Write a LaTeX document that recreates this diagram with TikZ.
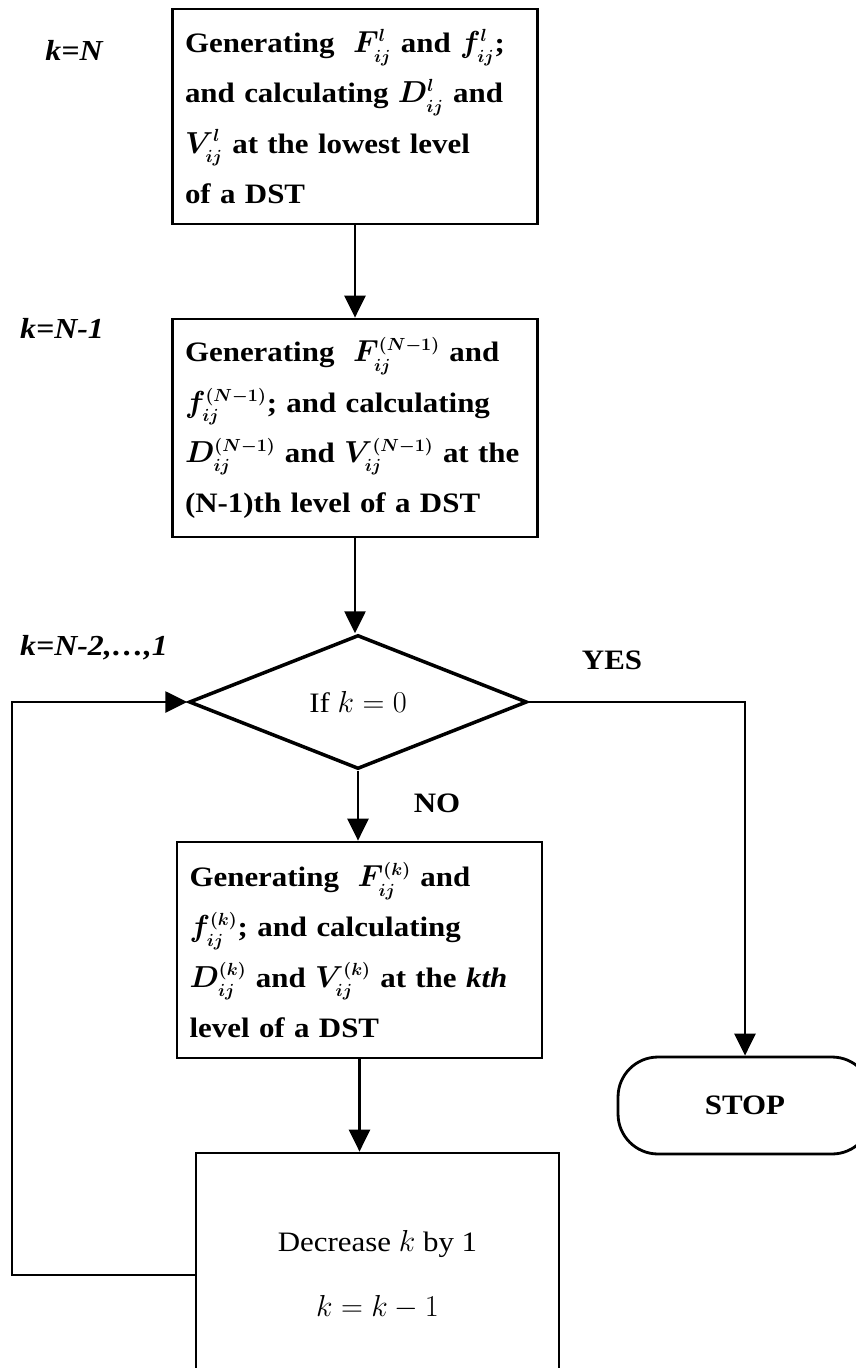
\documentclass[tikz,border=0pt]{standalone}
\usepackage{fontspec}
\setmainfont{Liberation Serif}[FakeStretch=1.1]
\DeclareMathSizes{16}{16}{10}{8}
\usetikzlibrary{positioning, arrows.meta, shapes.geometric}

\begin{document}
\begin{tikzpicture}
    [
        x=0.02cm, y=-0.02cm,
        process_box/.style={rectangle, draw=black, line width=1.6pt, minimum width=7.3cm, minimum height=4.3cm, text width=6.8cm, inner xsep=0.25cm, align=left, font=\bfseries\boldmath\fontsize{16}{28.5}\selectfont},
        plain_box/.style={rectangle, draw=black, line width=1.6pt, minimum width=7.26cm, minimum height=4.88cm, align=center, font=\fontsize{16}{37}\selectfont},
        decision_node/.style={diamond, draw=black, line width=2pt, minimum width=6.76cm, minimum height=2.68cm, inner sep=0pt, font=\fontsize{16}{19}\selectfont},
        stop_node/.style={rectangle, draw=black, line width=1.6pt, rounded corners=0.8cm, minimum width=5.08cm, minimum height=1.94cm, font=\bfseries\fontsize{16}{19}\selectfont},
        step_label/.style={font=\bfseries\itshape\fontsize{16.5}{19}\selectfont},
        answer_label/.style={font=\bfseries\fontsize{16}{19}\selectfont},
        flow_line/.style={-{Triangle[length=0.44cm, width=0.42cm]}, line width=1.5pt},
    ]
        \useasboundingbox (0,0) rectangle (855,1368);

        \node[process_box] (box1) at (355,116.5) {Generating\ \ $F_{ij}^{l}$ and $f_{ij}^{l}$;\\and calculating $D_{ij}^{l}$ and\\$V_{ij}^{l}$ at the lowest level\\of a DST};
        \node[process_box, minimum height=4.36cm] (box2) at (355,428) {Generating\ \ $F_{ij}^{(N-1)}$ and\\$f_{ij}^{(N-1)}$; and calculating\\$D_{ij}^{(N-1)}$ and $V_{ij}^{(N-1)}$ at the\\(N-1)th level of a DST};
        \node[decision_node] (dec) at (358,702) {If $k=0$};
        \node[process_box, minimum width=7.26cm, minimum height=4.32cm] (box3) at (359.5,950) {Generating\ \ $F_{ij}^{(k)}$ and\\$f_{ij}^{(k)}$; and calculating\\$D_{ij}^{(k)}$ and $V_{ij}^{(k)}$ at the \textit{kth}\\level of a DST};
        \node[plain_box] (box4) at (377.5,1275) {Decrease $k$ by 1\\$k=k-1$};
        \node[stop_node] (stop) at (745,1105.5) {STOP};

        \node[step_label] (k_top) at (74,50) {k=N};
        \node[step_label, anchor=west] (k_second) at (14,328) {k=N-1};
        \node[step_label, anchor=west] (k_rest) at (14,648) {k=N-2,\dots,1};
        \node[answer_label] (yes_label) at (612,660) {YES};
        \node[answer_label] (no_label) at (437,803) {NO};

        \coordinate (loop_corner) at (12,702);

        \draw[flow_line] (box1) to (box2);
        \draw[flow_line] (box2.south) to (box2.south |- dec.north);
        \draw[flow_line] (dec.south) to (dec.south |- box3.north);
        \draw[flow_line] (box3.south) to (box3.south |- box4.north);
        \draw[flow_line] (dec.east) -| (stop.north);
        \draw[flow_line] (box4.west) -| (loop_corner) -- (dec.west);
    \end{tikzpicture}
\end{document}
